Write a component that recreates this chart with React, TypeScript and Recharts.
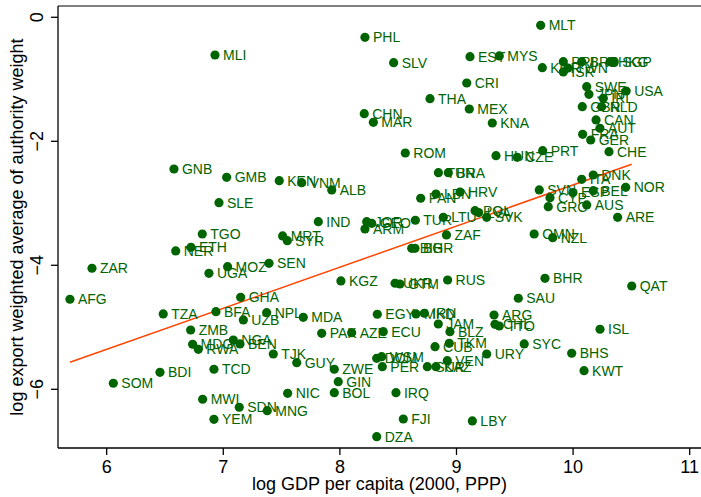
import { ReferenceLine, Scatter, ScatterChart, XAxis, YAxis } from 'recharts'

const GREEN = '#006400'
const FONT = '"Liberation Sans", Arial, Helvetica, sans-serif'

// country codes, log GDP per capita, log export weighted authority weight
const countries = [
	'MLI', 'PHL', 'SLV', 'THA', 'CHN', 'MAR', 'ROM', 'MLT', 'EST', 'MYS',
	'CRI', 'MEX', 'KNA', 'HUN', 'CZE', 'PRT', 'KOR', 'PRI', 'ISR', 'TWN',
	'BRB', 'HKG', 'SGP', 'SWE', 'JPN', 'USA', 'IRL', 'GBR', 'NLD', 'CAN',
	'AUT', 'FRA', 'GER', 'CHE', 'TUN', 'BRA', 'PAN', 'LBN', 'HRV', 'TUR',
	'LTU', 'POL', 'LVA', 'SVK', 'ZAF', 'BIH', 'BGR', 'JOR', 'GEO', 'ARM',
	'SVN', 'CYP', 'GRC', 'OMN', 'NZL', 'DNK', 'ITA', 'ESP', 'BEL', 'AUS',
	'NOR', 'ARE', 'BHR', 'QAT', 'SAU', 'RUS', 'UKR', 'GTM', 'GMB', 'KEN',
	'VNM', 'ALB', 'SLE', 'IND', 'MRT', 'SYR', 'TGO', 'ETH', 'NER', 'ZAR',
	'AFG', 'TZA', 'GNB', 'UGA', 'MOZ', 'SEN', 'GHA', 'BFA', 'NPL', 'UZB',
	'MDA', 'KGZ', 'EGY', 'MKD', 'IRN', 'ARG', 'CHL', 'TTO', 'JAM', 'BLZ',
	'PAK', 'AZE', 'ECU', 'CUB', 'TKM', 'URY', 'SYC', 'DOM', 'WSM', 'PER',
	'SUR', 'KAZ', 'VEN', 'GUY', 'ZWE', 'ZMB', 'MDG', 'RWA', 'NGA', 'BEN',
	'TJK', 'TCD', 'GIN', 'NIC', 'BOL', 'IRQ', 'MWI', 'SDN', 'MNG', 'YEM',
	'FJI', 'DZA', 'SOM', 'BDI', 'LBY', 'ISL', 'BHS', 'KWT'
]

const logGdp = [
	6.929, 8.215, 8.461, 8.773, 8.209, 8.287, 8.561, 9.722, 9.116, 9.367,
	9.088, 9.11, 9.307, 9.339, 9.521, 9.739, 9.736, 9.916, 9.916, 9.956,
	10.074, 10.317, 10.353, 10.117, 10.136, 10.455, 10.259, 10.079, 10.245, 10.197,
	10.23, 10.082, 10.151, 10.308, 8.845, 8.93, 8.693, 8.824, 9.03, 8.647,
	8.887, 9.159, 9.19, 9.259, 8.914, 8.616, 8.644, 8.23, 8.273, 8.215,
	9.71, 9.802, 9.787, 9.666, 9.825, 10.173, 10.074, 9.999, 10.173, 10.117,
	10.451, 10.382, 9.759, 10.503, 9.53, 8.924, 8.473, 8.515, 7.029, 7.48,
	7.672, 7.93, 6.963, 7.815, 7.509, 7.549, 6.82, 6.723, 6.592, 5.874,
	5.685, 6.485, 6.577, 6.877, 7.037, 7.392, 7.149, 6.937, 7.372, 7.172,
	7.686, 8.009, 8.321, 8.653, 8.724, 9.322, 9.33, 9.367, 8.844, 8.944,
	7.844, 8.101, 8.372, 8.816, 8.938, 9.259, 9.581, 8.316, 8.358, 8.364,
	8.75, 8.824, 8.921, 7.63, 7.952, 6.72, 6.737, 6.786, 7.086, 7.143,
	7.429, 6.92, 7.986, 7.552, 7.952, 8.481, 6.823, 7.137, 7.377, 6.92,
	8.544, 8.316, 6.057, 6.457, 9.136, 10.231, 9.988, 10.094
]

const logAuthority = [
	-0.608, -0.323, -0.732, -1.313, -1.555, -1.694, -2.189, -0.129, -0.635, -0.624,
	-1.06, -1.479, -1.705, -2.232, -2.258, -2.152, -0.813, -0.716, -0.882, -0.818,
	-0.716, -0.716, -0.716, -1.119, -1.242, -1.189, -1.306, -1.442, -1.442, -1.656,
	-1.79, -1.887, -1.979, -2.168, -2.507, -2.507, -2.919, -2.85, -2.818, -3.274,
	-3.226, -3.119, -3.15, -3.226, -3.511, -3.726, -3.726, -3.297, -3.323, -3.415,
	-2.785, -2.91, -3.055, -3.495, -3.555, -2.544, -2.613, -2.826, -2.797, -3.027,
	-2.742, -3.226, -4.21, -4.334, -4.532, -4.237, -4.29, -4.302, -2.581, -2.635,
	-2.668, -2.785, -2.99, -3.297, -3.527, -3.603, -3.495, -3.71, -3.769, -4.048,
	-4.548, -4.785, -2.447, -4.129, -4.023, -3.968, -4.516, -4.748, -4.765, -4.882,
	-4.839, -4.253, -4.79, -4.785, -4.774, -4.802, -4.952, -4.979, -4.947, -5.071,
	-5.097, -5.087, -5.071, -5.313, -5.258, -5.431, -5.269, -5.5, -5.474, -5.636,
	-5.636, -5.636, -5.539, -5.571, -5.677, -5.044, -5.274, -5.355, -5.205, -5.269,
	-5.431, -5.677, -5.877, -6.065, -6.055, -6.055, -6.161, -6.29, -6.345, -6.484,
	-6.479, -6.765, -5.903, -5.726, -6.511, -5.032, -5.419, -5.7
]

// fitted line, drawn between the smallest and largest GDP values
const fitX = [5.685, 10.503]
const fitY = [-5.565, -2.371]

const xTicks = [6, 7, 8, 9, 10, 11]
const yTicks = [0, -2, -4, -6]

const points = countries.map((name, i) => ({
	name,
	x: logGdp[i],
	y: logAuthority[i]
}))

const fmt = (v: number) => (v < 0 ? `\u2212${Math.abs(v)}` : `${v}`)

function LabeledDot(props: any) {
	const { cx, cy, payload } = props
	return (
		<g>
			<circle cx={cx} cy={cy} r={4.6} fill={GREEN} />
			<text
				x={cx + 8}
				y={cy + 5}
				fontSize={14}
				fontFamily={FONT}
				fill={GREEN}
			>
				{payload.name}
			</text>
		</g>
	)
}

function XTick({ x, payload }: any) {
	return (
		<text x={x} y={473} textAnchor='middle' fontSize={18} fontFamily={FONT} fill='#000'>
			{fmt(payload.value)}
		</text>
	)
}

function YTick({ y, payload }: any) {
	return (
		<text
			x={43}
			y={y}
			transform={`rotate(-90 43 ${y})`}
			textAnchor='middle'
			fontSize={18}
			fontFamily={FONT}
			fill='#000'
		>
			{fmt(payload.value)}
		</text>
	)
}

export default function App() {
	return (
		<div style={{ position: 'absolute', left: 0, top: 0, background: '#fff' }}>
			<ScatterChart
				width={701}
				height={497}
				margin={{ top: 6, right: 0, bottom: 0, left: 0 }}
			>
				<XAxis
					type='number'
					dataKey='x'
					domain={[5.5825, 11.097]}
					ticks={xTicks}
					allowDataOverflow
					tickSize={7}
					height={49}
					axisLine={{ stroke: '#000', strokeWidth: 1.3 }}
					tickLine={{ stroke: '#000', strokeWidth: 1.3 }}
					tick={<XTick />}
					label={{
						content: (p: any) => (
							<text
								x={p.viewBox.x + p.viewBox.width / 2}
								y={490}
								textAnchor='middle'
								fontSize={18}
								fontFamily={FONT}
								fill='#000'
							>
								log GDP per capita (2000, PPP)
							</text>
						)
					}}
				/>
				<YAxis
					type='number'
					dataKey='y'
					domain={[-6.947, 0.182]}
					ticks={yTicks}
					allowDataOverflow
					tickSize={7}
					width={58}
					axisLine={{ stroke: '#000', strokeWidth: 1.3 }}
					tickLine={{ stroke: '#000', strokeWidth: 1.3 }}
					tick={<YTick />}
					label={{
						content: (p: any) => {
							const cy = p.viewBox.y + p.viewBox.height / 2
							return (
								<text
									x={23}
									y={cy}
									transform={`rotate(-90 23 ${cy})`}
									textAnchor='middle'
									fontSize={18}
									fontFamily={FONT}
									fill='#000'
								>
									log export weighted average of authority weight
								</text>
							)
						}
					}}
				/>
				<ReferenceLine y={0.182} stroke='#555' strokeWidth={1.3} />
				<Scatter
					data={points}
					shape={<LabeledDot />}
					isAnimationActive={false}
				/>
				<ReferenceLine
					segment={[
						{ x: fitX[0], y: fitY[0] },
						{ x: fitX[1], y: fitY[1] }
					]}
					stroke='#ff4500'
					strokeWidth={1.5}
				/>
			</ScatterChart>
		</div>
	)
}
